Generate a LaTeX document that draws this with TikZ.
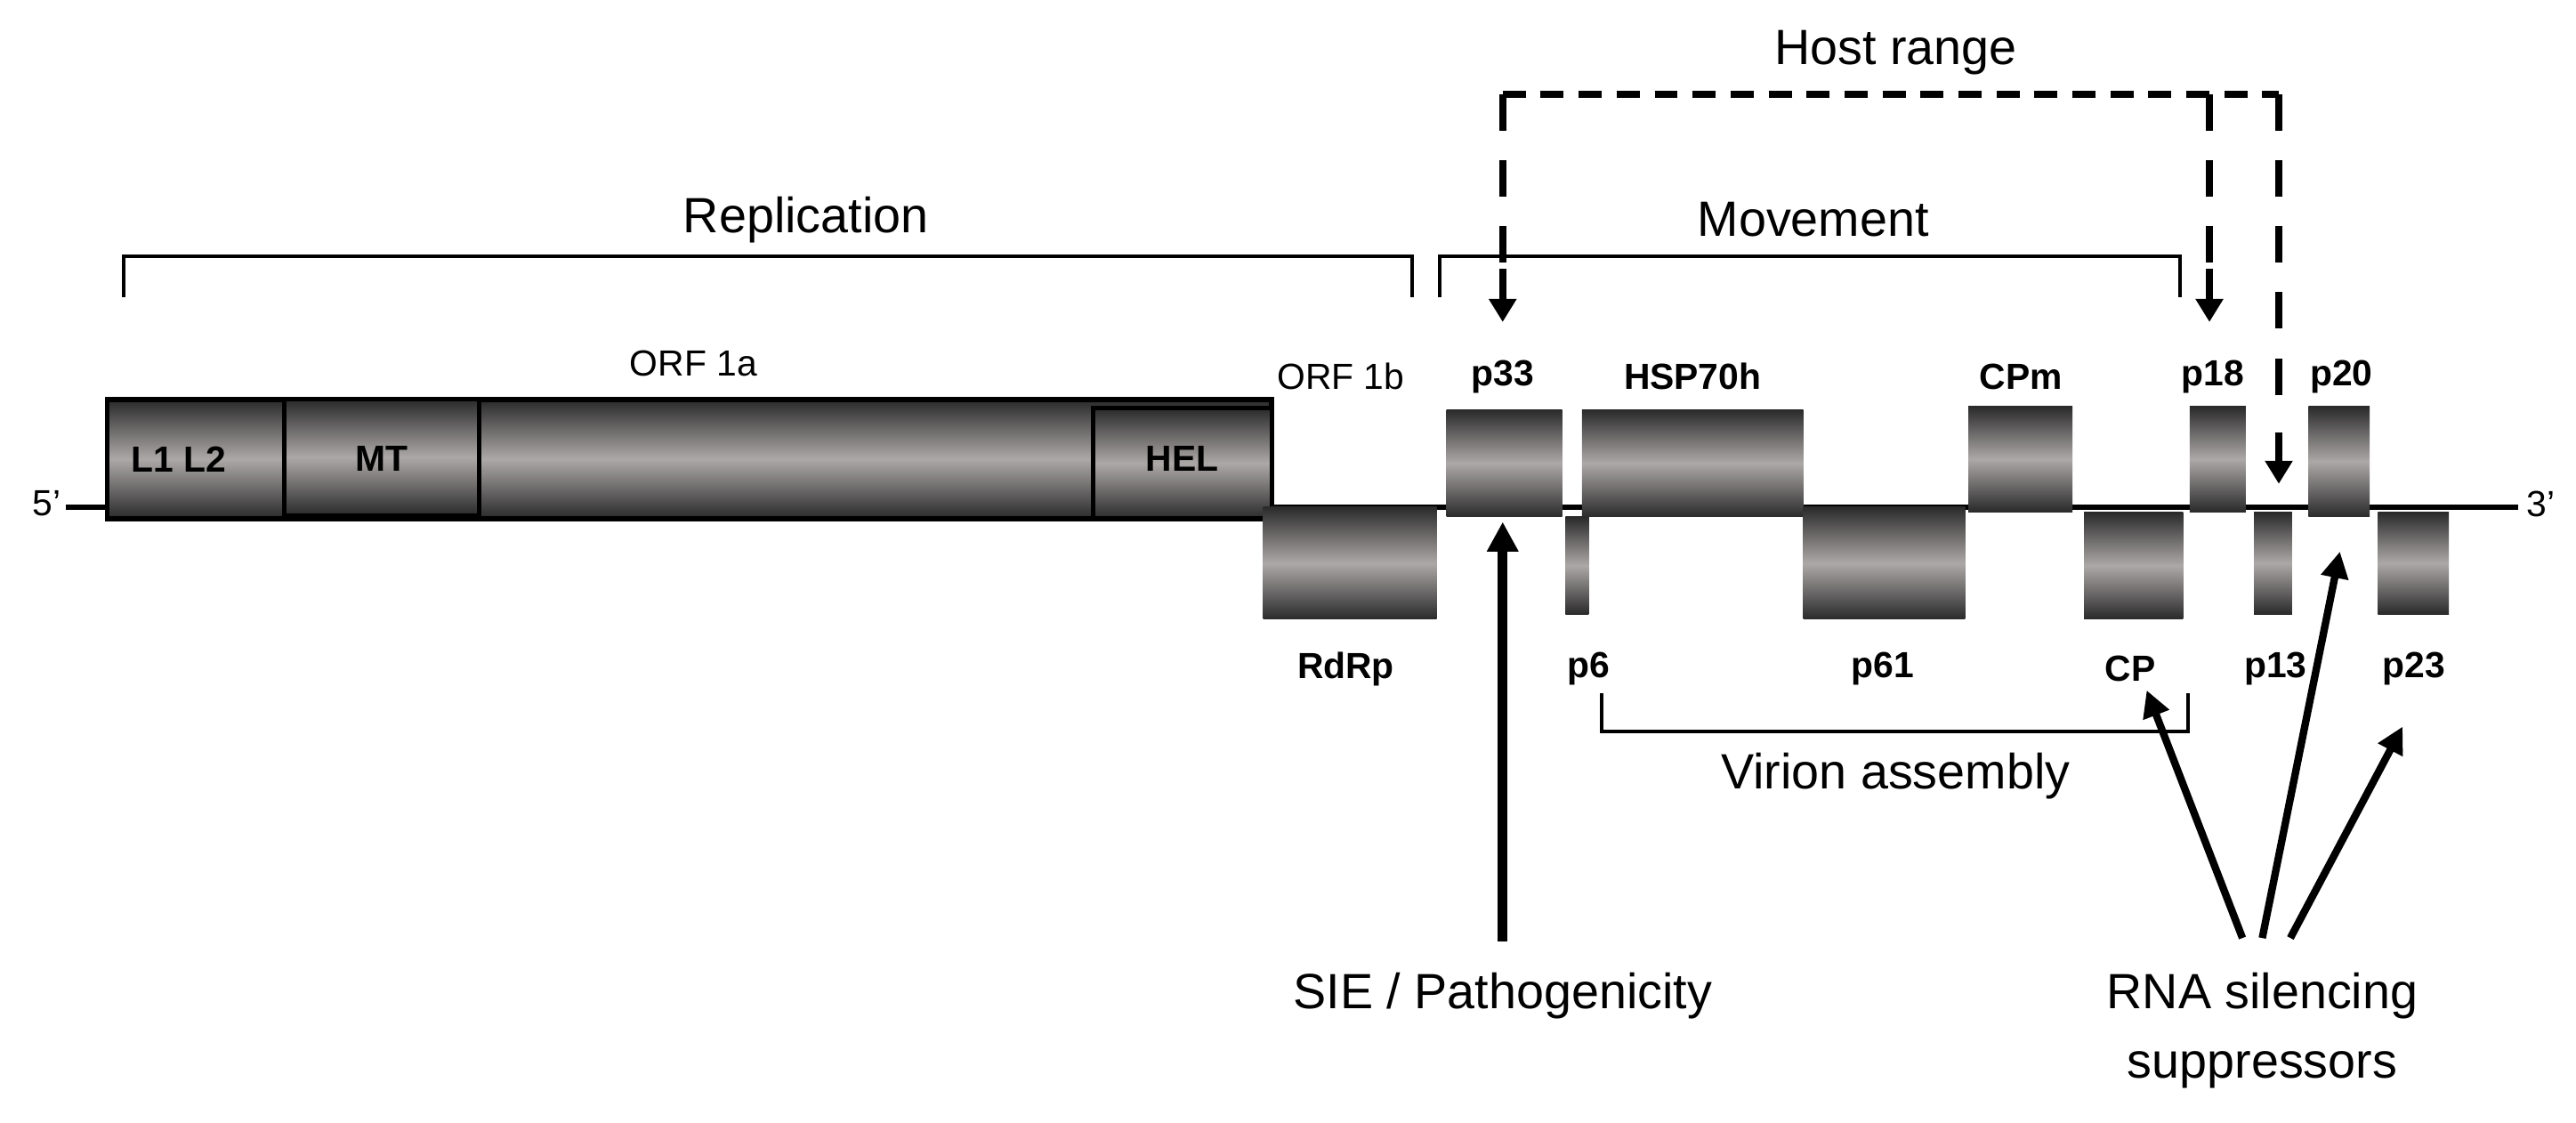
\documentclass[tikz,border=0pt]{standalone}
\usepackage{fontspec}
\setmainfont{Liberation Sans}
\usetikzlibrary{arrows.meta}
\definecolor{gdark}{HTML}{2A2A2A}
\definecolor{glight}{HTML}{ADA8A8}
\begin{document}
\begin{tikzpicture}[x=1pt,y=-1pt,
  gene/.style={rectangle,inner sep=0pt,outer sep=0pt,top color=gdark,bottom color=gdark,middle color=glight,draw=none},
  lab/.style={font=\fontsize{22}{24}\selectfont\bfseries,inner sep=0pt},
  big/.style={font=\fontsize{30}{34}\selectfont,inner sep=0pt},
  mid/.style={font=\fontsize{22}{24}\selectfont,inner sep=0pt},
  brk/.style={line width=2pt},
  hd/.style={line width=4.5pt,dash pattern=on 14pt off 9pt},
  vd/.style={line width=4.5pt,dash pattern=on 22pt off 18pt},
  tip/.style={line width=4.5pt,-{Triangle[length=14pt,width=16pt]}},
  sup/.style={line width=4.5pt,-{Triangle[length=16pt,width=16pt]}}]
\useasboundingbox (0,0) rectangle (1560,680);
% genome line
\coordinate (l0) at (40,307); \coordinate (l1) at (1525,307);
\draw[line width=3pt] (l0) -- (l1);
\node[mid,anchor=east] (five) at (37,305) {5’};
\node[mid,anchor=west] (three) at (1530,305) {3’};
% ORF1a
\node[gene,draw=black,line width=3pt,minimum width=705pt,minimum height=72pt] (orf1a) at (417.5,278) {};
\node[gene,draw=black,line width=2.5pt,minimum width=118pt,minimum height=70pt] (mt) at (231,277) {};
\node[gene,draw=black,line width=2.5pt,minimum width=108pt,minimum height=67pt] (hel) at (716,280.5) {};
\node[lab] at (108,278) {L1 L2};
\node[lab] at (231,278) {MT};
\node[lab] at (716,278) {HEL};
\node[mid] (orf1al) at (420,220) {ORF 1a};
\node[mid] (orf1bl) at (812,228) {ORF 1b};
% genes
\node[gene,minimum width=105pt,minimum height=68pt] (rdrp) at (817.5,341) {};
\node[lab] at (815,405) {RdRp};
\node[gene,minimum width=70pt,minimum height=65pt] (p33) at (911,280.5) {};
\node[lab] at (910,228) {p33};
\node[gene,minimum width=14pt,minimum height=59pt] (p6) at (955,342.5) {};
\node[lab] at (962,405) {p6};
\node[gene,minimum width=134pt,minimum height=65pt] (hsp) at (1025,280.5) {};
\node[lab] at (1025,228) {HSP70h};
\node[gene,minimum width=98pt,minimum height=68pt] (p61) at (1141,341) {};
\node[lab] at (1140,405) {p61};
\node[gene,minimum width=63pt,minimum height=64pt] (cpm) at (1223.5,278) {};
\node[lab] at (1224,228) {CPm};
\node[gene,minimum width=60pt,minimum height=65pt] (cp) at (1292,342.5) {};
\node[lab] (cpl) at (1290,405) {CP};
\node[gene,minimum width=34pt,minimum height=64pt] (p18) at (1343,278) {};
\node[lab] at (1340,228) {p18};
\node[gene,minimum width=23pt,minimum height=62pt] (p13) at (1376.5,341) {};
\node[lab] at (1378,405) {p13};
\node[gene,minimum width=37pt,minimum height=67pt] (p20) at (1416.5,279.5) {};
\node[lab] at (1418,228) {p20};
\node[gene,minimum width=43pt,minimum height=62pt] (p23) at (1461.5,341) {};
\node[lab] (p23l) at (1462,405) {p23};
% brackets
\draw[brk] (75,180) -- (75,155) -- (855,155) -- (855,180);
\node[big] (repl) at (488,133) {Replication};
\draw[brk] (872,180) -- (872,155) -- (1320,155) -- (1320,180);
\node[big] (mov) at (1098,133) {Movement};
\draw[brk] (970,420) -- (970,443) -- (1325,443) -- (1325,420);
\node[big] (vir) at (1148,470) {Virion assembly};
% host range
\node[big] (host) at (1148,32) {Host range};
\draw[hd] (910,57) -- (1380,57);
\draw[vd] (910,57) -- (910,160);
\draw[vd] (1338,57) -- (1338,160);
\draw[vd,dash pattern=on 22pt off 18pt] (1380,57) -- (1380,250);
\coordinate (a1) at (910,163); \coordinate (a2) at (1338,163); \coordinate (a3) at (1380,262);
\draw[tip] (a1) -- (910,195);
\draw[tip] (a2) -- (1338,195);
\draw[tip] (a3) -- (1380,293);
% SIE
\node[big] (sie) at (910,603) {SIE / Pathogenicity};
\draw[line width=6pt,-{Triangle[length=18pt,width=18pt]}] (910,570) -- (910,316);
% RNA silencing
\node[big,align=center,font=\fontsize{30}{42}\selectfont] (rna) at (1370,624) {RNA silencing\\suppressors};
\coordinate (s1) at (1358,568); \coordinate (s2) at (1370,568); \coordinate (s3) at (1387,568);
\draw[sup] (s1) -- (1300,418);
\draw[sup] (s2) -- (1417,334);
\draw[sup] (s3) -- (1455,440);
\end{tikzpicture}
\end{document}
